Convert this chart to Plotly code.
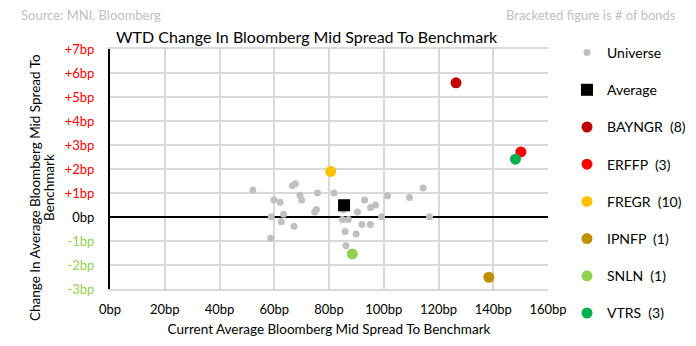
import plotly.graph_objects as go

# ---- data ----
universe_x = [52.2, 59.9, 62.2, 66.6, 67.7, 69.4, 70.0, 75.8, 81.8, 74.8, 75.4, 58.9, 63.4, 62.6,
              67.2, 58.7, 85.2, 84.9, 87.1, 90.4, 93.0, 95.2, 97.0, 92.0, 95.1, 99.2, 101.4, 109.4,
              114.4, 116.7, 85.9, 89.9, 86.2]
universe_y = [1.12, 0.71, 0.61, 1.30, 1.39, 0.91, 0.71, 1.00, 1.00, 0.21, 0.31, 0.01, 0.11, -0.20,
              -0.39, -0.89, 0.29, -0.10, -0.10, 0.21, 0.71, 0.40, 0.50, -0.31, -0.31, 0.01, 0.89, 0.81,
              1.21, 0.01, -0.60, -0.71, -1.20]
average_x = [85.5]
average_y = [0.49]

issuers = ["BAYNGR", "ERFFP", "FREGR", "IPNFP", "SNLN", "VTRS"]
issuer_bonds = [8, 3, 10, 1, 1, 3]
issuer_x = [126.4, 150.1, 80.6, 138.4, 88.5, 148.1]
issuer_y = [5.59, 2.71, 1.90, -2.51, -1.54, 2.41]
issuer_colors = ["#c00000", "#ff0000", "#ffc000", "#bf9000", "#92d050", "#00b050"]

x_ticks = [0, 20, 40, 60, 80, 100, 120, 140, 160]
y_ticks = [-3, -2, -1, 0, 1, 2, 3, 4, 5, 6, 7]

y_title_lines = ["Change In Average Bloomberg Mid Spread To", "Benchmark"]

FONT = "Lato"


def ylabel(v):
    if v > 0:
        return f'<span style="color:#ff0000">+{v}bp</span>'
    if v < 0:
        return f'<span style="color:#92d050">{v}bp</span>'
    return "0bp"


fig = go.Figure()
fig.add_trace(go.Scatter(x=universe_x, y=universe_y, mode="markers", name="Universe",
                         legendgroup="u",
                         marker=dict(color="#c0c0c0", size=7)))
fig.add_trace(go.Scatter(x=average_x, y=average_y, mode="markers", name="Average",
                         legendgroup="a",
                         marker=dict(color="#000000", size=12, symbol="square")))
for name, n, x, y, c in zip(issuers, issuer_bonds, issuer_x, issuer_y, issuer_colors):
    fig.add_trace(go.Scatter(x=[x], y=[y], mode="markers", name=f"{name}  ({n})",
                             legendgroup=name,
                             marker=dict(color=c, size=11)))

fig.update_layout(
    width=696, height=346,
    margin=dict(l=110, r=148, t=49, b=57, autoexpand=False),
    paper_bgcolor="white", plot_bgcolor="white",
    font=dict(family=FONT, size=13, color="#000000"),
    showlegend=True,
    legend=dict(xref="container", x=567 / 696, xanchor="left",
                yref="container", y=1 - 37 / 346, yanchor="top",
                traceorder="grouped", tracegroupgap=16, maxheight=340,
                font=dict(size=14, color="#000000"), itemwidth=30),
    title=dict(text="WTD Change In Bloomberg Mid Spread To Benchmark",
               x=116 / 696, xanchor="left", y=1 - 37 / 346, yanchor="middle",
               font=dict(size=16, color="#000000")),
)
fig.update_xaxes(range=[0, 160], tickvals=x_ticks, ticktext=[f"{v}bp" for v in x_ticks],
                 showgrid=True, gridcolor="#d9d9d9", gridwidth=1.5,
                 zeroline=False, showline=True, linecolor="#d9d9d9", linewidth=1.5, mirror=True,
                 ticks="outside", ticklen=8, tickcolor="rgba(0,0,0,0)",
                 tickfont=dict(size=13),
                 title=dict(text="Current Average Bloomberg Mid Spread To Benchmark",
                            font=dict(size=13.5), standoff=8))
fig.update_yaxes(range=[-3, 7], tickvals=y_ticks, ticktext=[ylabel(v) for v in y_ticks],
                 showgrid=True, gridcolor="#d9d9d9", gridwidth=1.5,
                 zeroline=True, zerolinecolor="#000000", zerolinewidth=2,
                 showline=True, linecolor="#000000", linewidth=2,
                 ticks="outside", ticklen=11, tickcolor="rgba(0,0,0,0)",
                 tickfont=dict(size=13))

for line, px in zip(y_title_lines, [35, 49]):
    fig.add_annotation(text=line, xref="paper", yref="paper",
                       x=(px - 110) / 438, y=(289 - 188) / 240,
                       xanchor="center", yanchor="middle", textangle=-90, showarrow=False,
                       font=dict(size=13.5, color="#000000"))
fig.add_annotation(text="Source: MNI, Bloomberg", xref="paper", yref="paper",
                   x=-91 / 438, y=1 + (49 - 15) / 240, xanchor="left", yanchor="middle",
                   showarrow=False, font=dict(size=13, color="#bfbfbf"))
fig.add_annotation(text="Bracketed figure is # of bonds", xref="paper", yref="paper",
                   x=(678 - 110) / 438, y=1 + (49 - 15) / 240, xanchor="right", yanchor="middle",
                   showarrow=False, font=dict(size=13, color="#bfbfbf"))

fig.write_html("out.html")
